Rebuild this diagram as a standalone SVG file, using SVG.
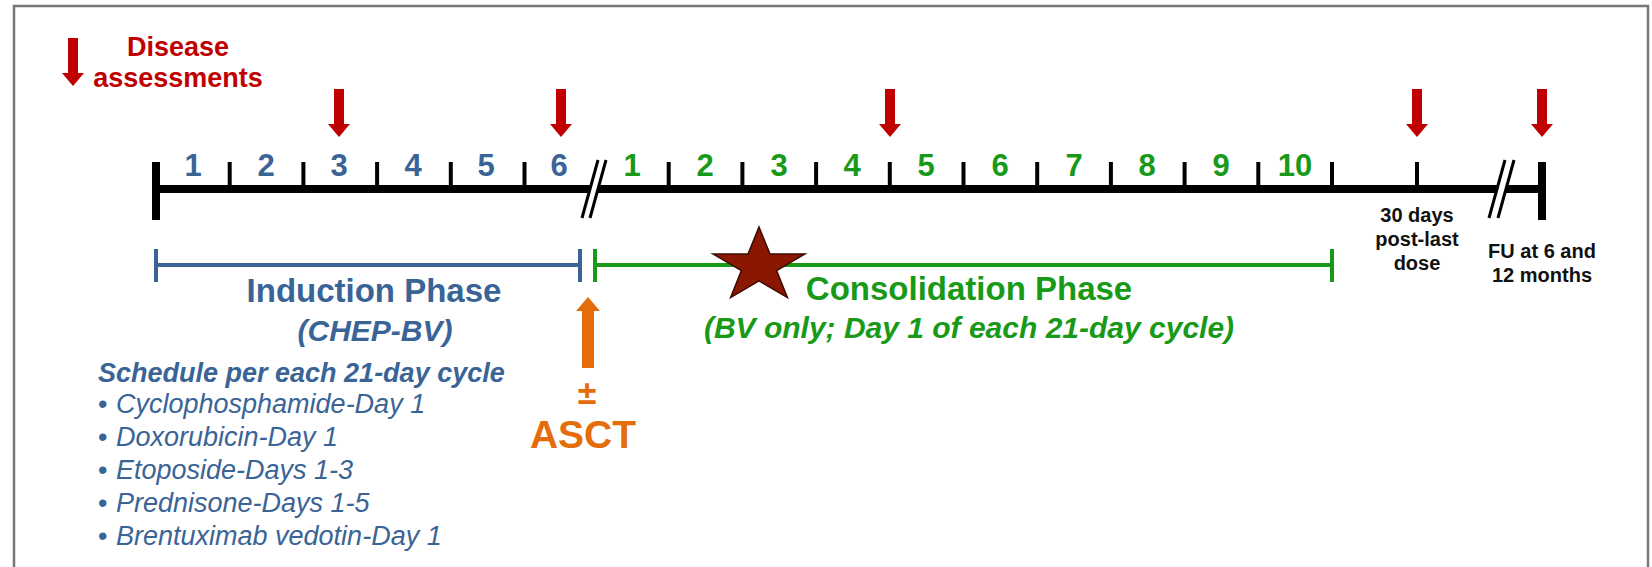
<svg xmlns="http://www.w3.org/2000/svg" xmlns:xlink="http://www.w3.org/1999/xlink" width="1652" height="567" viewBox="0 0 1652 567">
<defs>
<style>
text{font-family:"Liberation Sans",Arial,sans-serif;}
.red{fill:#C00000;}
.num{font-size:31px;font-weight:bold;text-anchor:middle;}
.blue{fill:#3A6496;}
.green{fill:#189A18;}
.blk{fill:#111;font-size:20px;font-weight:bold;text-anchor:middle;}
.title{font-size:33px;font-weight:bold;text-anchor:middle;}
.sub{font-size:30px;font-weight:bold;font-style:italic;text-anchor:middle;}
.item{font-size:27px;font-style:italic;fill:#3A6496;}
.tick{stroke:#000;stroke-width:4;}
.slash{stroke:#000;stroke-width:3;}
</style>
<path id="redArrow" class="red" d="M-5,0 H5 V35 H11 L0,48 L-11,35 H-5 Z"/>
</defs>
<rect x="0" y="0" width="1652" height="567" fill="#fff"/>
<rect x="14" y="6" width="1634" height="600" fill="none" stroke="#777" stroke-width="2.5"/>

<g id="legend">
<use xlink:href="#redArrow" x="73" y="38"/>
<text x="178" y="56" class="red" font-size="27" font-weight="bold" text-anchor="middle">Disease</text>
<text x="178" y="87" class="red" font-size="27" font-weight="bold" text-anchor="middle">assessments</text>
</g>

<g id="timeline">
<rect x="156" y="185" width="1386" height="8" fill="#000"/>
<rect x="152" y="162" width="8" height="58" fill="#000"/>
<rect x="1538" y="162" width="8" height="58" fill="#000"/>
<g class="ticks">
<line class="tick" x1="229.7" y1="162" x2="229.7" y2="189"/>
<line class="tick" x1="303.4" y1="162" x2="303.4" y2="189"/>
<line class="tick" x1="377.1" y1="162" x2="377.1" y2="189"/>
<line class="tick" x1="450.8" y1="162" x2="450.8" y2="189"/>
<line class="tick" x1="524.5" y1="162" x2="524.5" y2="189"/>
<line class="tick" x1="668.7" y1="162" x2="668.7" y2="189"/>
<line class="tick" x1="742.4" y1="162" x2="742.4" y2="189"/>
<line class="tick" x1="816.1" y1="162" x2="816.1" y2="189"/>
<line class="tick" x1="889.8" y1="162" x2="889.8" y2="189"/>
<line class="tick" x1="963.5" y1="162" x2="963.5" y2="189"/>
<line class="tick" x1="1037.2" y1="162" x2="1037.2" y2="189"/>
<line class="tick" x1="1110.9" y1="162" x2="1110.9" y2="189"/>
<line class="tick" x1="1184.6" y1="162" x2="1184.6" y2="189"/>
<line class="tick" x1="1258.3" y1="162" x2="1258.3" y2="189"/>
<line class="tick" x1="1332" y1="162" x2="1332" y2="189"/>
<line class="tick" x1="1417" y1="162" x2="1417" y2="189"/>
</g>
<g id="break1">
<polygon points="598,160 606,160 590,218 582,218" fill="#fff"/>
<line class="slash" x1="598" y1="160" x2="582" y2="218"/>
<line class="slash" x1="606" y1="160" x2="590" y2="218"/>
</g>
<g id="break2">
<polygon points="1505,160 1514,160 1498,218 1489,218" fill="#fff"/>
<line class="slash" x1="1505" y1="160" x2="1489" y2="218"/>
<line class="slash" x1="1514" y1="160" x2="1498" y2="218"/>
</g>
<g class="blue">
<text class="num" x="193" y="176">1</text>
<text class="num" x="266" y="176">2</text>
<text class="num" x="339" y="176">3</text>
<text class="num" x="413" y="176">4</text>
<text class="num" x="486" y="176">5</text>
<text class="num" x="559" y="176">6</text>
</g>
<g class="green">
<text class="num" x="632" y="176">1</text>
<text class="num" x="705" y="176">2</text>
<text class="num" x="779" y="176">3</text>
<text class="num" x="852" y="176">4</text>
<text class="num" x="926" y="176">5</text>
<text class="num" x="1000" y="176">6</text>
<text class="num" x="1074" y="176">7</text>
<text class="num" x="1147" y="176">8</text>
<text class="num" x="1221" y="176">9</text>
<text class="num" x="1295" y="176">10</text>
</g>
<text class="blk" x="1417" y="222">30 days</text>
<text class="blk" x="1417" y="246">post-last</text>
<text class="blk" x="1417" y="270">dose</text>
<text class="blk" x="1542" y="258">FU at 6 and</text>
<text class="blk" x="1542" y="282">12 months</text>
</g>

<g id="assessment-arrows">
<use xlink:href="#redArrow" x="339" y="89"/>
<use xlink:href="#redArrow" x="561" y="89"/>
<use xlink:href="#redArrow" x="890" y="89"/>
<use xlink:href="#redArrow" x="1417" y="89"/>
<use xlink:href="#redArrow" x="1542" y="89"/>
</g>

<g id="induction">
<line x1="156" y1="265" x2="580" y2="265" stroke="#3A6496" stroke-width="4"/>
<line x1="156" y1="249" x2="156" y2="282" stroke="#3A6496" stroke-width="4"/>
<line x1="580" y1="249" x2="580" y2="282" stroke="#3A6496" stroke-width="4"/>
<text class="title blue" x="374" y="302">Induction Phase</text>
<text class="sub blue" x="375" y="341">(CHEP-BV)</text>
<text x="98" y="382" font-size="27" font-weight="bold" font-style="italic" fill="#3A6496">Schedule per each 21-day cycle</text>
<text class="item" x="98" y="413"><tspan font-style="normal">•</tspan><tspan x="116">Cyclophosphamide-Day 1</tspan></text>
<text class="item" x="98" y="446"><tspan font-style="normal">•</tspan><tspan x="116">Doxorubicin-Day 1</tspan></text>
<text class="item" x="98" y="479"><tspan font-style="normal">•</tspan><tspan x="116">Etoposide-Days 1-3</tspan></text>
<text class="item" x="98" y="512"><tspan font-style="normal">•</tspan><tspan x="116">Prednisone-Days 1-5</tspan></text>
<text class="item" x="98" y="545"><tspan font-style="normal">•</tspan><tspan x="116">Brentuximab vedotin-Day 1</tspan></text>
</g>

<g id="consolidation">
<line x1="595" y1="265" x2="1332" y2="265" stroke="#189A18" stroke-width="4"/>
<line x1="595" y1="249" x2="595" y2="282" stroke="#189A18" stroke-width="4"/>
<line x1="1332" y1="249" x2="1332" y2="282" stroke="#189A18" stroke-width="4"/>
<text class="title green" x="969" y="300">Consolidation Phase</text>
<text class="sub green" x="969" y="338">(BV only; Day 1 of each 21-day cycle)</text>
</g>

<g id="star">
<polygon points="759,227 769.9,253.9 805,253.9 776.6,270.6 787.4,297.6 759,280.9 730.6,297.6 741.4,270.6 713,253.9 748.1,253.9" fill="#8A1700" stroke="#3D0A00" stroke-width="1.5" stroke-linejoin="miter"/>
</g>

<g id="asct">
<path d="M582,368 V311 H576 L588,297 L600,311 H594 V368 Z" fill="#E46C0A"/>
<text x="587" y="404" font-size="34" font-weight="bold" fill="#E46C0A" text-anchor="middle">±</text>
<text x="583" y="448" font-size="39" font-weight="bold" fill="#E46C0A" text-anchor="middle">ASCT</text>
</g>
</svg>
